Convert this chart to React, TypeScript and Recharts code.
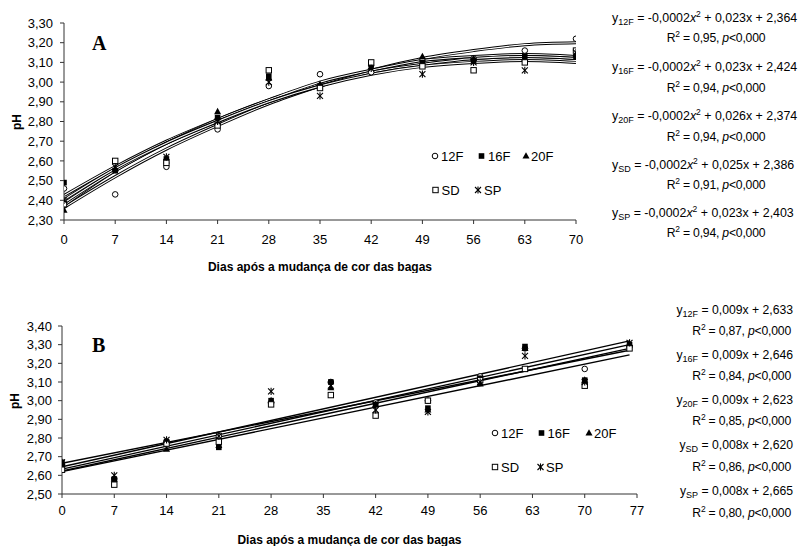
import React from 'react';
import { ComposedChart, Scatter, Line, XAxis, YAxis, Legend } from 'recharts';

const FONT = '"Liberation Sans", Arial, Helvetica, sans-serif';
const SERIF = '"Liberation Serif", "Times New Roman", serif';

// ---------- Panel A data ----------
const daysA = [0, 7, 14, 21, 28, 35, 42, 49, 56, 63, 70];
const phA_12F = [2.46, 2.43, 2.57, 2.76, 2.98, 3.04, 3.05, 3.11, 3.12, 3.16, 3.22];
const phA_16F = [2.49, 2.55, 2.61, 2.82, 3.03, 2.98, 3.09, 3.10, 3.11, 3.13, 3.13];
const phA_20F = [2.35, 2.56, 2.60, 2.85, 3.02, 2.99, 3.08, 3.13, 3.12, 3.12, 3.14];
const phA_SD = [2.38, 2.60, 2.59, 2.78, 3.06, 2.97, 3.10, 3.08, 3.06, 3.10, 3.16];
const phA_SP = [2.40, 2.57, 2.62, 2.80, 3.00, 2.93, 3.07, 3.04, 3.10, 3.06, 3.15];

// fitted curves
const fitA_12F = [2.364, 2.52, 2.66, 2.78, 2.89, 2.98, 3.06, 3.12, 3.16, 3.19, 3.20];
const fitA_16F = [2.424, 2.57, 2.70, 2.81, 2.91, 2.99, 3.05, 3.10, 3.12, 3.13, 3.12];
const fitA_20F = [2.374, 2.55, 2.69, 2.81, 2.91, 3.00, 3.06, 3.11, 3.13, 3.14, 3.13];
const fitA_SD = [2.386, 2.55, 2.69, 2.80, 2.90, 2.98, 3.05, 3.09, 3.12, 3.13, 3.12];
const fitA_SP = [2.403, 2.56, 2.69, 2.80, 2.90, 2.98, 3.04, 3.08, 3.10, 3.11, 3.10];

const xTicksA = [0, 7, 14, 21, 28, 35, 42, 49, 56, 63, 70];
const yTicksA = [2.3, 2.4, 2.5, 2.6, 2.7, 2.8, 2.9, 3.0, 3.1, 3.2, 3.3];

// ---------- Panel B data ----------
const daysB = [0, 7, 14, 21, 28, 36, 42, 49, 56, 62, 70, 76];
const phB_12F = [2.66, 2.58, 2.78, 2.81, 2.99, 3.10, 2.99, 3.00, 3.13, 3.28, 3.17, 3.29];
const phB_16F = [2.67, 2.58, 2.78, 2.75, 3.00, 3.10, 2.98, 2.96, 3.12, 3.29, 3.11, 3.30];
const phB_20F = [2.66, 2.58, 2.74, 2.76, 3.00, 3.07, 2.98, 2.95, 3.09, 3.28, 3.11, 3.30];
const phB_SD = [2.63, 2.55, 2.77, 2.78, 2.98, 3.03, 2.92, 3.00, 3.11, 3.17, 3.08, 3.28];
const phB_SP = [2.67, 2.60, 2.79, 2.81, 3.05, 3.08, 2.95, 2.94, 3.10, 3.24, 3.10, 3.31];

const fitDaysB = [0, 76];
const fitB_12F = [2.633, 3.30];
const fitB_16F = [2.646, 3.32];
const fitB_20F = [2.623, 3.28];
const fitB_SD = [2.620, 3.245];
const fitB_SP = [2.665, 3.27];

const xTicksB = [0, 7, 14, 21, 28, 35, 42, 49, 56, 63, 70, 77];
const yTicksB = [2.5, 2.6, 2.7, 2.8, 2.9, 3.0, 3.1, 3.2, 3.3, 3.4];

// ---------- Equation texts ----------
const eqNames = ['12F', '16F', '20F', 'SD', 'SP'];
const eqA_b = ['0,023', '0,023', '0,026', '0,025', '0,023'];
const eqA_c = ['2,364', '2,424', '2,374', '2,386', '2,403'];
const eqA_r2 = ['0,95', '0,94', '0,94', '0,91', '0,94'];
const eqB_b = ['0,009', '0,009', '0,009', '0,008', '0,008'];
const eqB_c = ['2,633', '2,646', '2,623', '2,620', '2,665'];
const eqB_r2 = ['0,87', '0,84', '0,85', '0,86', '0,80'];

const axisTitle = 'Dias após a mudança de cor das bagas';

const zip = (xs: number[], ys: number[]) => xs.map((x, i) => ({ x, y: ys[i] }));
const fmt = (v: number) => v.toFixed(2).replace('.', ',');

// ---------- marker shapes ----------
const OpenCircle = (p: any) => (
  <circle cx={p.cx} cy={p.cy} r={2.8} fill="#fff" stroke="#000" strokeWidth={1} />
);
const FilledSquare = (p: any) => (
  <rect x={p.cx - 2.8} y={p.cy - 2.8} width={5.6} height={5.6} fill="#000" />
);
const Triangle = (p: any) => (
  <polygon
    points={`${p.cx},${p.cy - 3.8} ${p.cx + 3.5},${p.cy + 2.6} ${p.cx - 3.5},${p.cy + 2.6}`}
    fill="#000"
  />
);
const OpenSquare = (p: any) => (
  <rect x={p.cx - 2.7} y={p.cy - 2.7} width={5.4} height={5.4} fill="#fff" stroke="#000" strokeWidth={1} />
);
const Star = (p: any) => (
  <g stroke="#000" strokeWidth={1.1}>
    <line x1={p.cx - 3} y1={p.cy - 3} x2={p.cx + 3} y2={p.cy + 3} />
    <line x1={p.cx - 3} y1={p.cy + 3} x2={p.cx + 3} y2={p.cy - 3} />
    <line x1={p.cx} y1={p.cy - 3.6} x2={p.cx} y2={p.cy + 3.6} />
  </g>
);
const shapes = [OpenCircle, FilledSquare, Triangle, OpenSquare, Star];

// ---------- legend ----------
const LegendBox = ({ pos }: { pos: number[][] }) => (
  <svg width={150} height={56} style={{ overflow: 'visible', display: 'block' }}>
    {eqNames.map((n, i) => {
      const [sx, tx, y] = pos[i];
      const Shape = shapes[i];
      return (
        <g key={n}>
          <Shape cx={sx} cy={y} />
          <text x={tx} y={y + 4.7} fontSize={13} fontFamily={FONT} fill="#000">
            {n}
          </text>
        </g>
      );
    })}
  </svg>
);

type PanelProps = {
  top: number;
  margin: { top: number; right: number; bottom: number; left: number };
  xDomain: number[];
  xTicks: number[];
  yDomain: number[];
  yTicks: number[];
  xTickMargin: number;
  yTickMargin: number;
  points: number[][];
  days: number[];
  fits: number[][];
  fitDays: number[];
  curved: boolean;
  legendLeft: number;
  legendTop: number;
  legendPos: number[][];
  titleOffset: number;
};

const tickStyle = { fill: '#000', fontSize: 13, fontFamily: FONT };

function Panel(p: PanelProps) {
  return (
    <div style={{ position: 'absolute', left: 0, top: p.top }}>
      <ComposedChart width={799} height={273} margin={p.margin}>
        <XAxis
          type="number"
          dataKey="x"
          domain={p.xDomain}
          ticks={p.xTicks}
          interval={0}
          allowDataOverflow
          tickSize={4}
          tickMargin={p.xTickMargin}
          height={30}
          stroke="#333"
          tick={tickStyle}
          label={{
            value: axisTitle,
            position: 'bottom',
            offset: p.titleOffset,
            fill: '#000',
            fontSize: 12,
            fontWeight: 'bold',
            fontFamily: FONT,
          }}
        />
        <YAxis
          type="number"
          dataKey="y"
          domain={p.yDomain}
          ticks={p.yTicks}
          interval={0}
          allowDataOverflow
          tickSize={4}
          tickMargin={p.yTickMargin}
          width={40}
          stroke="#333"
          tick={tickStyle}
          tickFormatter={fmt}
        />
        {p.fits.map((f, i) =>
          p.curved
            ? [
                <Line
                  key={`fo${i}`}
                  data={zip(p.fitDays, f)}
                  dataKey="y"
                  type="monotone"
                  stroke="#000"
                  strokeWidth={3}
                  dot={false}
                  activeDot={false}
                  legendType="none"
                  isAnimationActive={false}
                />,
                <Line
                  key={`fi${i}`}
                  data={zip(p.fitDays, f)}
                  dataKey="y"
                  type="monotone"
                  stroke="#fff"
                  strokeWidth={1.1}
                  dot={false}
                  activeDot={false}
                  legendType="none"
                  isAnimationActive={false}
                />,
              ]
            : (
              <Line
                key={`f${i}`}
                data={zip(p.fitDays, f)}
                dataKey="y"
                type="linear"
                stroke="#000"
                strokeWidth={1.4}
                dot={false}
                activeDot={false}
                legendType="none"
                isAnimationActive={false}
              />
            )
        )}
        {p.points.map((ys, i) => (
          <Scatter
            key={eqNames[i]}
            name={eqNames[i]}
            data={zip(p.days, ys)}
            shape={shapes[i]}
            isAnimationActive={false}
          />
        ))}
        <Legend
          layout="horizontal"
          verticalAlign="middle"
          align="center"
          wrapperStyle={{ left: p.legendLeft, top: p.legendTop, width: 150, height: 56 }}
          content={() => <LegendBox pos={p.legendPos} />}
        />
      </ComposedChart>
    </div>
  );
}

const EqQuad = ({ name, b, c, x, y }: any) => (
  <text x={x} y={y + 4.4} fontSize={12.4} fontFamily={FONT} fill="#000">
    y<tspan fontSize={9} dy={3}>{name}</tspan>
    <tspan dy={-3}> = -0,0002</tspan>
    <tspan fontStyle="italic">x</tspan>
    <tspan fontSize={8.5} dy={-5}>2</tspan>
    <tspan dy={5}>{` + ${b}x + ${c}`}</tspan>
  </text>
);

const EqLin = ({ name, b, c, x, y }: any) => (
  <text x={x} y={y + 4.4} fontSize={12.2} fontFamily={FONT} fill="#000" textAnchor="end">
    y<tspan fontSize={9} dy={3}>{name}</tspan>
    <tspan dy={-3}>{` = ${b}x + ${c}`}</tspan>
  </text>
);

const EqR2 = ({ r2, x, y, anchor }: any) => (
  <text
    x={x}
    y={y + 4.4}
    fontSize={12.2}
    fontFamily={FONT}
    fill="#000"
    textAnchor={anchor}
    letterSpacing={-0.2}
  >
    R<tspan fontSize={8.5} dy={-5}>2</tspan>
    <tspan dy={5}>{` = ${r2}, `}</tspan>
    <tspan fontStyle="italic">p</tspan>
    <tspan>{'<0,000'}</tspan>
  </text>
);

const eqRowsA = [18, 67, 116, 165, 213];
const r2RowsA = [38, 88, 137, 185, 233];
const eqRowsB = [310, 355, 400, 445, 491];
const r2RowsB = [331, 376, 421, 467, 513];

export default function App() {
  return (
    <div
      style={{
        position: 'absolute',
        left: 0,
        top: 0,
        width: 799,
        height: 546,
        background: '#fff',
        overflow: 'hidden',
      }}
    >
      <Panel
        top={0}
        margin={{ top: 23, right: 223, bottom: 23, left: 24 }}
        xDomain={[0, 70]}
        xTicks={xTicksA}
        yDomain={[2.3, 3.3]}
        yTicks={yTicksA}
        xTickMargin={11}
        yTickMargin={7}
        points={[phA_12F, phA_16F, phA_20F, phA_SD, phA_SP]}
        days={daysA}
        fits={[fitA_12F, fitA_16F, fitA_20F, fitA_SD, fitA_SP]}
        fitDays={daysA}
        curved={true}
        legendLeft={428}
        legendTop={146}
        legendPos={[
          [7, 13, 10],
          [53.5, 60, 10],
          [98, 103, 10],
          [7.5, 13.5, 44],
          [50, 56, 44],
        ]}
        titleOffset={12}
      />
      <Panel
        top={273}
        margin={{ top: 53, right: 162, bottom: 22, left: 22 }}
        xDomain={[0, 77]}
        xTicks={xTicksB}
        yDomain={[2.5, 3.4]}
        yTicks={yTicksB}
        xTickMargin={8}
        yTickMargin={6}
        points={[phB_12F, phB_16F, phB_20F, phB_SD, phB_SP]}
        days={daysB}
        fits={[fitB_12F, fitB_16F, fitB_20F, fitB_SD, fitB_SP]}
        fitDays={fitDaysB}
        curved={false}
        legendLeft={488}
        legendTop={150}
        legendPos={[
          [7, 13, 10],
          [53.5, 59.5, 10],
          [101, 106, 10],
          [7, 13, 44],
          [52.5, 58, 44],
        ]}
        titleOffset={11}
      />
      <svg
        width={799}
        height={546}
        style={{ position: 'absolute', left: 0, top: 0, pointerEvents: 'none' }}
      >
        <text x={92} y={50} fontSize={20} fontWeight="bold" fontFamily={SERIF} fill="#000">A</text>
        <text x={92} y={352} fontSize={20} fontWeight="bold" fontFamily={SERIF} fill="#000">B</text>
        <text
          x={0}
          y={0}
          transform="translate(21,122) rotate(-90)"
          textAnchor="middle"
          fontSize={12}
          fontWeight="bold"
          fontFamily={FONT}
          fill="#000"
        >
          pH
        </text>
        <text
          x={0}
          y={0}
          transform="translate(19,401) rotate(-90)"
          textAnchor="middle"
          fontSize={12}
          fontWeight="bold"
          fontFamily={FONT}
          fill="#000"
        >
          pH
        </text>
        {eqNames.map((n, i) => (
          <g key={`a${n}`}>
            <EqQuad name={n} b={eqA_b[i]} c={eqA_c[i]} x={612} y={eqRowsA[i]} />
            <EqR2 r2={eqA_r2[i]} x={716} y={r2RowsA[i]} anchor="middle" />
          </g>
        ))}
        {eqNames.map((n, i) => (
          <g key={`b${n}`}>
            <EqLin name={n} b={eqB_b[i]} c={eqB_c[i]} x={793} y={eqRowsB[i]} />
            <EqR2 r2={eqB_r2[i]} x={791} y={r2RowsB[i]} anchor="end" />
          </g>
        ))}
      </svg>
    </div>
  );
}
